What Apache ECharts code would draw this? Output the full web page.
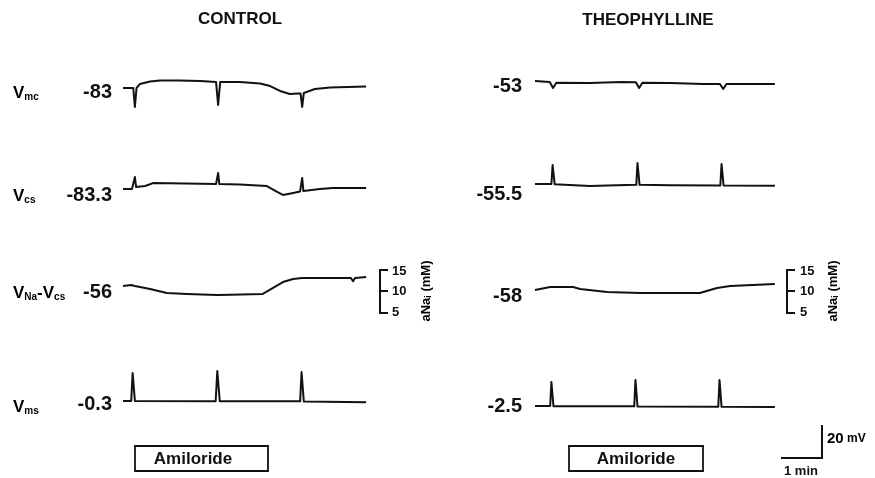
<!DOCTYPE html>
<html>
<head>
<meta charset="utf-8">
<script src="https://cdn.jsdelivr.net/npm/echarts@6.0.0/dist/echarts.min.js"></script>
<style>
html, body { margin: 0; padding: 0; background: #fff; }
#chart { width: 875px; height: 478px; }
</style>
</head>
<body>
<div id="chart"></div>
<script>
// time in minutes, potential in mV (aNa trace also in mV)
const vmcControl = [[0,-83],[0.2,-83],[0.25,-83],[0.29,-94.5],[0.33,-83],[0.41,-80.6],[0.66,-79.1],[0.9,-78.5],[1.39,-78.5],[1.88,-78.8],[2.27,-79.4],[2.32,-93.3],[2.37,-79.4],[2.85,-79.4],[3.34,-80.3],[3.59,-81.8],[3.83,-84.8],[4.07,-86.6],[4.27,-86.3],[4.33,-86.3],[4.37,-94.5],[4.41,-86.0],[4.68,-83.6],[5.05,-82.7],[5.93,-82.1]];
const vcsControl = [[0,-83.3],[0.22,-83.3],[0.26,-82.5],[0.29,-76.0],[0.32,-82.1],[0.54,-81.5],[0.73,-79.7],[1.51,-80.0],[2.27,-80.3],[2.30,-80.3],[2.32,-73.6],[2.35,-80.3],[2.85,-80.6],[3.51,-81.5],[3.76,-85.1],[3.90,-86.9],[4.15,-85.7],[4.32,-84.8],[4.35,-84.8],[4.37,-76.6],[4.40,-84.5],[4.80,-83.3],[5.12,-82.7],[5.93,-82.7]];
const naControl = [[0,-55.4],[0.2,-54.8],[0.24,-54.2],[0.29,-55.4],[0.66,-57.2],[1.07,-59.6],[1.56,-60.2],[2.29,-60.8],[2.32,-62.0],[2.35,-60.8],[3.41,-60.2],[3.66,-56.6],[3.90,-53.0],[4.15,-51.2],[4.37,-50.6],[4.73,-50.5],[5.56,-50.5],[5.61,-52.5],[5.66,-50.5],[5.93,-49.9]];
const vmsControl = [[0,-0.3],[0.20,-0.3],[0.235,16.7],[0.255,16.7],[0.29,-0.3],[2.26,-0.4],[2.30,17.9],[2.32,17.9],[2.36,-0.4],[4.32,-0.5],[4.355,17.3],[4.375,17.3],[4.41,-0.6],[5.93,-1.0]];

const vmcTheo = [[0,-52.4],[0.36,-53],[0.44,-56.6],[0.52,-53.4],[1.34,-53.6],[2.1,-53],[2.46,-53.2],[2.54,-56.6],[2.62,-53.4],[3.3,-53.6],[4.1,-54.2],[4.51,-54.2],[4.59,-57.2],[4.67,-54.2],[5.85,-54.2]];
const vcsTheo = [[0,-55.5],[0.40,-55.5],[0.43,-44.0],[0.45,-44.0],[0.48,-55.6],[1.34,-56.7],[2.0,-56.2],[2.47,-56.0],[2.50,-42.8],[2.52,-42.8],[2.55,-56.0],[3.3,-56.2],[4.52,-56.4],[4.55,-43.4],[4.57,-43.4],[4.60,-56.4],[5.85,-56.5]];
const naTheo = [[0,-58],[0.37,-56.2],[0.93,-56.2],[1.10,-57.4],[1.76,-59.2],[2.56,-59.8],[4.02,-59.8],[4.44,-56.8],[4.76,-55.6],[5.85,-54.4]];
const vmsTheo = [[0,-2.5],[0.37,-2.5],[0.40,12.0],[0.42,12.0],[0.45,-2.6],[2.42,-2.7],[2.45,13.3],[2.47,13.3],[2.50,-2.8],[4.47,-2.9],[4.50,13.3],[4.52,13.3],[4.55,-3.0],[5.85,-3.1]];

const panelTitles = ['CONTROL', 'THEOPHYLLINE'];
const rowNames = ['{v|V}{s|mc}', '{v|V}{s|cs}', '{v|V}{s|Na}{v|-V}{s|cs}', '{v|V}{s|ms}'];
const controlLabels = ['-83', '-83.3', '-56', '-0.3'];
const theoLabels = ['-53', '-55.5', '-58', '-2.5'];
const naTicks = ['15', '10', '5'];

let chart = echarts.init(document.getElementById('chart'), null, { renderer: 'canvas' });

const PX_PER_MIN = 41;
const PX_PER_MV = 1.65;
const HALF = 40;
const cols = [{ left: 123, width: 243 }, { left: 535, width: 240 }];

const panels = [
	{ data: vmcControl, label: controlLabels[0], baseY: 88, col: 0 },
	{ data: vcsControl, label: controlLabels[1], baseY: 189, col: 0 },
	{ data: naControl, label: controlLabels[2], baseY: 287, col: 0 },
	{ data: vmsControl, label: controlLabels[3], baseY: 401, col: 0 },
	{ data: vmcTheo, label: theoLabels[0], baseY: 82, col: 1 },
	{ data: vcsTheo, label: theoLabels[1], baseY: 184, col: 1 },
	{ data: naTheo, label: theoLabels[2], baseY: 290, col: 1 },
	{ data: vmsTheo, label: theoLabels[3], baseY: 406, col: 1 },
];

const FONT = '"Liberation Sans", Arial, sans-serif';
const ink = '#111';
const graphic = [];

function addText(x, y, text, size, align, extra) {
	graphic.push(Object.assign({
		type: 'text',
		x: x,
		y: y,
		style: {
			text: text,
			fill: ink,
			font: 'bold ' + size + 'px ' + FONT,
			align: align || 'center',
			verticalAlign: 'middle',
		},
	}, extra || {}));
}
function addLine(points, width) {
	graphic.push({
		type: 'polyline',
		shape: { points: points },
		style: { stroke: ink, lineWidth: width || 2, fill: null },
	});
}

// titles
addText(240, 19, panelTitles[0], 17);
addText(648, 20, panelTitles[1], 17);

// row labels
const richV = {
	v: { fontSize: 17, fontWeight: 'bold', fontFamily: FONT, color: ink },
	s: { fontSize: 10, fontWeight: 'bold', fontFamily: FONT, color: ink, padding: [9, 0, 0, 0] },
};
const nameY = [93, 196, 293, 407];
nameY.forEach(function (y, i) {
	graphic.push({
		type: 'text',
		x: 13,
		y: y,
		style: { text: rowNames[i], rich: richV, align: 'left', verticalAlign: 'middle' },
	});
});
const leftValY = [92, 195, 292, 404];
const rightValY = [86, 194, 296, 406];
controlLabels.forEach(function (t, i) {
	addText(112, leftValY[i], t, 20, 'right');
});
theoLabels.forEach(function (t, i) {
	addText(522, rightValY[i], t, 20, 'right');
});

// aNa_i scale brackets
[{ x: 380, tx: 392, rx: 426 }, { x: 787, tx: 800, rx: 833 }].forEach(function (b) {
	addLine([[b.x + 8, 270], [b.x, 270], [b.x, 313], [b.x + 8, 313]], 2);
	addLine([[b.x, 291], [b.x + 8, 291]], 2);
	addText(b.tx, 271, naTicks[0], 13, 'left');
	addText(b.tx, 291, naTicks[1], 13, 'left');
	addText(b.tx, 312, naTicks[2], 13, 'left');
	graphic.push({
		type: 'text',
		x: b.rx,
		y: 291,
		rotation: Math.PI / 2,
		style: {
			text: '{t|aNa}{s|i}{t| (mM)}',
			align: 'center',
			verticalAlign: 'middle',
			rich: {
				t: { fontSize: 13, fontWeight: 'bold', fontFamily: FONT, color: ink },
				s: { fontSize: 9, fontWeight: 'bold', fontFamily: FONT, color: ink, padding: [6, 0, 0, 0] },
			},
		},
	});
});

// Amiloride boxes
[{ x: 135, w: 133, tx: 193 }, { x: 569, w: 134, tx: 636 }].forEach(function (b) {
	graphic.push({
		type: 'rect',
		shape: { x: b.x, y: 446, width: b.w, height: 25 },
		style: { fill: '#fff', stroke: ink, lineWidth: 1.8 },
	});
	addText(b.tx, 459, 'Amiloride', 17);
});

// calibration bars: 20 mV and 1 min
addLine([[822, 425], [822, 458], [822 - PX_PER_MIN, 458]], 2);
graphic.push({
	type: 'text',
	x: 827,
	y: 439,
	style: {
		text: '{a|20}{b| mV}',
		align: 'left',
		verticalAlign: 'middle',
		rich: {
			a: { fontSize: 15, fontWeight: 'bold', fontFamily: FONT, color: ink },
			b: { fontSize: 12, fontWeight: 'bold', fontFamily: FONT, color: ink },
		},
	},
});
addText(801, 471, '1 min', 13);

let option = {
	animation: false,
	backgroundColor: '#fff',
	grid: panels.map(function (p) {
		return { left: cols[p.col].left, width: cols[p.col].width, top: p.baseY - HALF, height: 2 * HALF };
	}),
	xAxis: panels.map(function (p, i) {
		return { type: 'value', gridIndex: i, min: 0, max: cols[p.col].width / PX_PER_MIN, show: false };
	}),
	yAxis: panels.map(function (p, i) {
		const base = parseFloat(p.label);
		return { type: 'value', gridIndex: i, min: base - HALF / PX_PER_MV, max: base + HALF / PX_PER_MV, show: false };
	}),
	series: panels.map(function (p, i) {
		return {
			type: 'line',
			xAxisIndex: i,
			yAxisIndex: i,
			data: p.data,
			showSymbol: false,
			clip: false,
			lineStyle: { color: ink, width: 2, join: 'round' },
		};
	}),
	graphic: graphic,
};

chart.setOption(option);
window.addEventListener('resize', chart.resize);
</script>
</body>
</html>
